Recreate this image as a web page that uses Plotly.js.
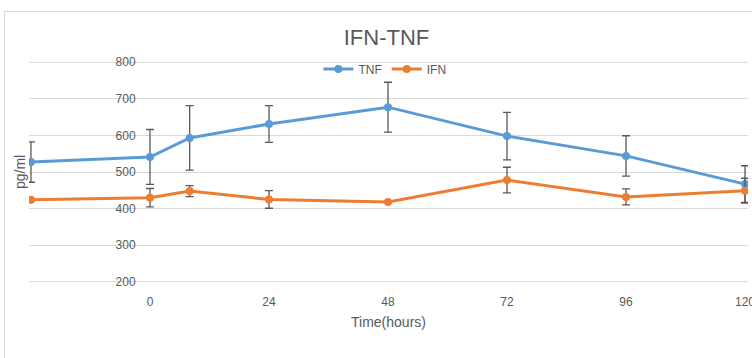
<!DOCTYPE html>
<html>
<head>
<meta charset="utf-8">
<script src="https://cdn.plot.ly/plotly-3.0.1.min.js"></script>
<style>html,body{margin:0;padding:0;background:#fff;overflow:hidden}#chart{width:752px;height:358px}</style>
</head>
<body>
<div id="chart"></div>
<script>
const hours = [-24, 0, 8, 24, 48, 72, 96, 120];
const tnf = [527, 541, 593, 631, 677, 598, 544, 467];
const tnfErr = [55, 75, 88, 50, 68, 65, 55, 50];
const ifn = [424, 430, 448, 425, 418, 478, 432, 449];
const ifnErr = [0, 25, 15, 24, 0, 35, 22, 34];
const xTicks = [0, 24, 48, 72, 96, 120];
const yTicks = [200, 300, 400, 500, 600, 700, 800];

const FONT = '"Liberation Sans", Arial, sans-serif';
const GRAY = '#595959';

const errStyle = {type: 'data', visible: true, color: '#595959', thickness: 1.3, width: 4};

const traces = [
  {x: hours, y: tnf, name: 'TNF', type: 'scatter', mode: 'lines+markers',
   line: {color: '#5B9BD5', width: 3}, marker: {color: '#5B9BD5', size: 8},
   error_y: Object.assign({array: tnfErr}, errStyle)},
  {x: hours, y: ifn, name: 'IFN', type: 'scatter', mode: 'lines+markers',
   line: {color: '#ED7D31', width: 3}, marker: {color: '#ED7D31', size: 8},
   error_y: Object.assign({array: ifnErr}, errStyle)}
];

const layout = {
  width: 752, height: 358,
  margin: {l: 29, r: 4, t: 61, b: 75},
  paper_bgcolor: '#fff', plot_bgcolor: '#fff',
  font: {family: FONT, color: GRAY, size: 12},
  title: {text: 'IFN-TNF', font: {family: FONT, size: 22, color: GRAY},
          xref: 'container', x: 0.514, xanchor: 'center',
          yref: 'container', y: 1 - 37/358, yanchor: 'middle'},
  showlegend: true,
  legend: {orientation: 'h', x: 0.495, xanchor: 'center', y: (283 - 69) / 222, yanchor: 'middle',
           bgcolor: 'rgba(0,0,0,0)', font: {family: FONT, size: 12, color: GRAY},
           itemwidth: 30, tracegroupgap: 0},
  xaxis: {range: [-24.4, 120.6], tickvals: xTicks, ticktext: xTicks.map(String),
          showgrid: false, zeroline: false, showline: false,
          ticks: 'outside', ticklen: 8, tickcolor: 'rgba(0,0,0,0)',
          ticklabeloverflow: 'allow',
          tickfont: {family: FONT, size: 12, color: GRAY},
          title: {text: 'Time(hours)', font: {family: FONT, size: 14, color: GRAY}, standoff: 8}},
  yaxis: {range: [197, 803], tickvals: yTicks, ticktext: yTicks.map(String),
          anchor: 'free', position: (150 - 29) / 719,
          showgrid: true, gridcolor: '#d9d9d9', gridwidth: 1,
          zeroline: false, showline: false,
          ticks: 'outside', ticklen: 12, tickcolor: 'rgba(0,0,0,0)',
          tickfont: {family: FONT, size: 12, color: GRAY}},
  annotations: [{text: 'pg/ml', textangle: -90, xref: 'paper', yref: 'paper',
                 x: (20 - 29) / 719, y: 0.5, xanchor: 'center', yanchor: 'middle',
                 showarrow: false, font: {family: FONT, size: 14, color: GRAY}}],
  shapes: [{type: 'rect', xref: 'paper', yref: 'paper',
            x0: (4.5 - 29) / 719, x1: 1.2, y0: -0.6, y1: (283 - 11.5) / 222,
            line: {color: '#d9d9d9', width: 1}, fillcolor: 'rgba(0,0,0,0)', layer: 'below'}]
};

Plotly.newPlot('chart', traces, layout, {displayModeBar: false, staticPlot: true});
</script>
</body>
</html>
